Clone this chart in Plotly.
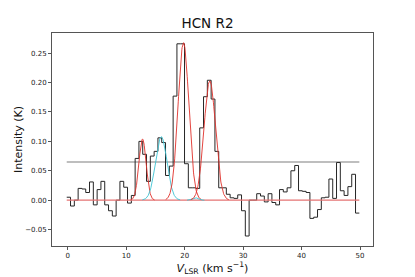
import numpy as np
import plotly.graph_objects as go

# ---- data ----
chan_width = 0.65
chan_start = -0.17
intensity = [
    0.005, -0.010, 0.000, 0.020, 0.019, 0.013, 0.031, -0.008, 0.018, 0.032,
    -0.008, -0.018, -0.027, 0.000, 0.032, 0.022, -0.005, 0.008, 0.071, 0.100,
    0.078, 0.032, 0.075, 0.083, 0.106, 0.098, 0.042, 0.058, 0.177, 0.266,
    0.266, 0.062, 0.021, 0.021, 0.020, 0.123, 0.176, 0.204, 0.172, 0.083,
    0.021, 0.021, 0.010, 0.004, 0.003, 0.009, -0.018, -0.061, 0.000, 0.000,
    0.011, 0.007, -0.003, 0.011, -0.004, -0.008, 0.018, 0.014, 0.021, 0.050,
    0.059, 0.016, 0.015, 0.013, -0.031, -0.029, -0.016, 0.004, 0.005, 0.036,
    0.003, 0.064, 0.016, 0.008, 0.023, 0.044, -0.022,
]
# Gaussian fit components: centre (km/s), amplitude (K), sigma (km/s), colour
comp_center = [12.8, 16.0, 19.8, 21.9, 24.3]
comp_amp = [0.104, 0.108, 0.268, 0.004, 0.203]
comp_sigma = [0.62, 0.98, 0.92, 0.45, 0.98]
comp_color = ["#e0302a", "#3cc3d3", "#e0302a", "#3cc3d3", "#e0302a"]
threshold = 0.065
x_ticks = [0, 10, 20, 30, 40, 50]
y_ticks = [-0.05, 0.0, 0.05, 0.10, 0.15, 0.20, 0.25]

n = len(intensity)
edges = [chan_start + chan_width * i for i in range(n + 1)]
x_end = edges[-1]

fig = go.Figure()

# threshold line
fig.add_trace(go.Scatter(x=[chan_start, x_end], y=[threshold, threshold], mode="lines",
                         line=dict(color="#a8a8a8", width=1.5), hoverinfo="skip"))

# spectrum (step)
fig.add_trace(go.Scatter(x=edges, y=intensity + [intensity[-1]], mode="lines",
                         line=dict(color="#262626", width=1.0, shape="hv"), hoverinfo="skip"))

# zero baseline
fig.add_trace(go.Scatter(x=[chan_start, x_end], y=[0, 0], mode="lines",
                         line=dict(color="#e57373", width=1.2), hoverinfo="skip"))

# gaussian components
for c, a, s, col in zip(comp_center, comp_amp, comp_sigma, comp_color):
    xs = np.linspace(c - 3.3 * s, c + 3.3 * s, 120)
    ys = a * np.exp(-0.5 * ((xs - c) / s) ** 2)
    fig.add_trace(go.Scatter(x=xs, y=ys, mode="lines",
                             line=dict(color=col, width=0.9), hoverinfo="skip"))

axis_common = dict(showline=True, linecolor="#555555", linewidth=1, mirror=True,
                   ticks="outside", ticklen=3, tickcolor="#555555", showgrid=False,
                   zeroline=False, automargin=False,
                   tickfont=dict(family="DejaVu Sans", size=7, color="#222222"))

fig.update_layout(
    width=415, height=277,
    margin=dict(l=52, r=42, t=33, b=31),
    paper_bgcolor="white", plot_bgcolor="white",
    showlegend=False,
    title=dict(text="HCN R2", x=0.5, xanchor="center", y=1 - 23 / 277, yanchor="middle",
               font=dict(family="DejaVu Sans", size=13.5, color="#111111")),
    xaxis=dict(range=[-2.69, 52.22], tickvals=x_ticks, ticktext=[str(t) for t in x_ticks],
               title=dict(text="<i>V</i><sub>LSR</sub> (km s<sup>−1</sup>)", standoff=4,
                          font=dict(family="DejaVu Sans", size=11, color="#111111")),
               **axis_common),
    yaxis=dict(range=[-0.078, 0.2844], tickvals=y_ticks, tickformat=".2f",
               title=dict(text="Intensity (K)", standoff=0,
                          font=dict(family="DejaVu Sans", size=11, color="#111111")),
               **axis_common),
)

fig.write_html("out.html", config={"displayModeBar": False},
               post_script="document.body.style.margin='0';document.body.style.overflow='hidden';")
